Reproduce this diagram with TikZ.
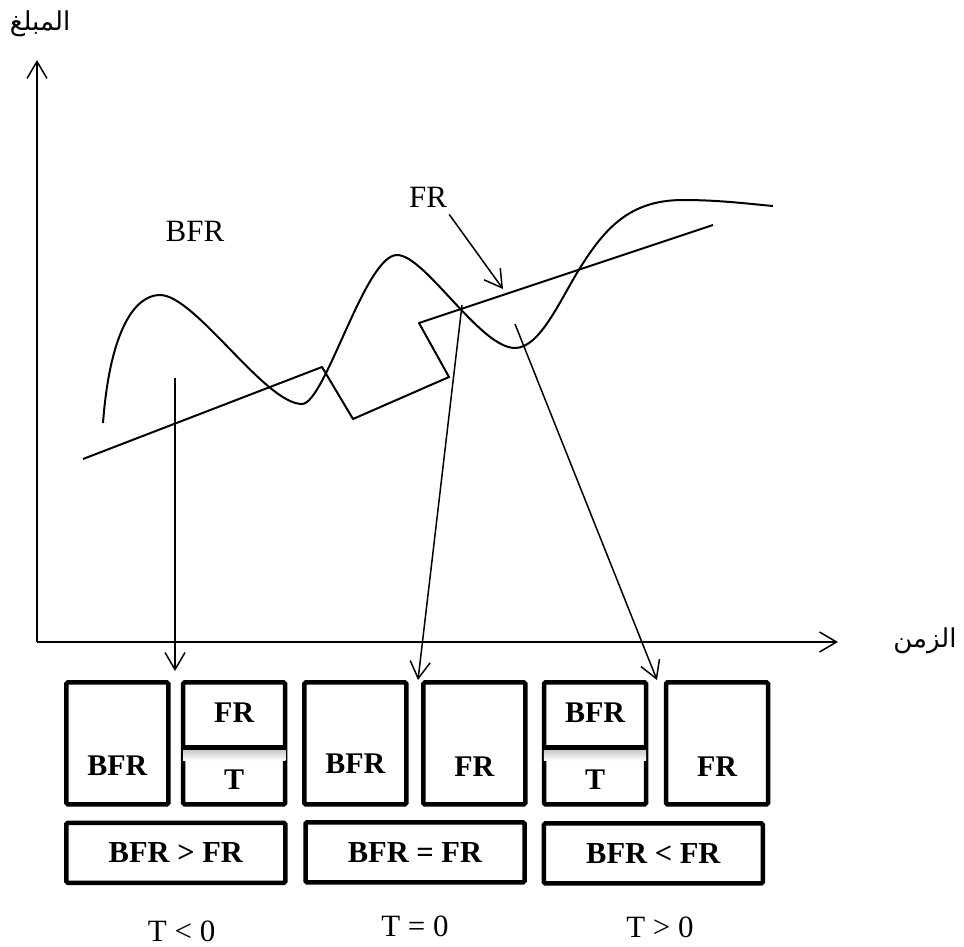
\documentclass[tikz,border=0pt]{standalone}
\usepackage{fontspec}
\setmainfont{Liberation Serif}
\newfontfamily\arabicfont[Script=Arabic]{DejaVu Sans}
\TeXXeTstate=1
\usetikzlibrary{arrows.meta}
\tikzset{
  cell/.style={draw,line width=4.5pt,rounded corners=1.5pt,minimum width=102pt,minimum height=122pt,inner sep=0pt},
  wide/.style={cell,minimum width=219pt,minimum height=60pt,font=\bfseries\fontsize{30.5}{36}\selectfont},
  boldlbl/.style={font=\bfseries\fontsize{30}{36}\selectfont,inner sep=0pt},
  plainlbl/.style={font=\fontsize{31}{37}\selectfont,inner sep=0pt},
  arlbl/.style={font=\arabicfont\fontsize{26}{32}\selectfont,inner sep=0pt},
  pointer/.style={-{Straight Barb[length=17pt,width=20pt]},line width=1.5pt},
  graph/.style={line width=2pt,line join=round}
}

\begin{document}
\begin{tikzpicture}[x=1pt,y=-1pt]
        \useasboundingbox (0,0) rectangle (964,947);
        % axes
        \coordinate (origin) at (37,642);
        \coordinate (ytop) at (37,60);
        \coordinate (xend) at (838,642);
        \draw[pointer] (origin) -- (ytop);
        \draw[pointer] (origin) -- (xend);
        \node[arlbl] (ylabel) at (40,24) {\beginR المبلغ\endR};
        \node[arlbl] (xlabel) at (925,641) {\beginR الزمن\endR};
        % curve and trend
        \draw[graph] (103,423) .. controls (110,330) and (135,295) .. (160,295)
          .. controls (195,295) and (265,404) .. (302,404)
          .. controls (325,404) and (365,255) .. (397,255)
          .. controls (425,255) and (480,348) .. (515,348)
          .. controls (540,348) and (560,300) .. (580,268)
          .. controls (605,228) and (630,200) .. (683,200)
          .. controls (720,200) and (750,204) .. (773,206);
        \draw[graph] (83,459) -- (322,367) -- (353,419) -- (449,377) -- (419,323) -- (713,225);
        \node[plainlbl] (bfrlbl) at (195,231) {BFR};
        \node[plainlbl] (frlbl) at (428,197) {FR};
        \coordinate (frtip) at (503,289);
        \draw[pointer] ([shift={(2pt,-7pt)}]frlbl.south east) -- (frtip);
        % boxes
        \foreach \n/\x in {1/117.4,2/234.2,3/355.3,4/474.3,5/595,6/717}{
          \node[cell] (box\n) at (\x,743.4) {};
        }
        \foreach \n in {2,5}{
          \shade[top color=black!22,bottom color=white] ([xshift=2.2pt,yshift=-6pt]box\n.west) rectangle ([xshift=-2.2pt,yshift=-17pt]box\n.east);
          \draw[line width=4.5pt] ([yshift=-4pt]box\n.west) -- ([yshift=-4pt]box\n.east);
        }
        \node[boldlbl] (txt1) at ([yshift=-22pt]box1.center) {BFR};
        \node[boldlbl] (txt2a) at ([yshift=30.5pt]box2.center) {FR};
        \node[boldlbl] (txt2b) at ([yshift=-36pt]box2.center) {T};
        \node[boldlbl] (txt3) at ([yshift=-20pt]box3.center) {BFR};
        \node[boldlbl] (txt4) at ([yshift=-23.5pt]box4.center) {FR};
        \node[boldlbl] (txt5a) at ([yshift=30.5pt]box5.center) {BFR};
        \node[boldlbl] (txt5b) at ([yshift=-36.5pt]box5.center) {T};
        \node[boldlbl] (txt6) at ([yshift=-23.5pt]box6.center) {FR};
        \node[wide] (cmp1) at (175.8,852.8) {BFR > FR};
        \node[wide] (cmp2) at (415,852.4) {BFR = FR};
        \node[wide] (cmp3) at (653.3,853.4) {BFR < FR};
        \node[plainlbl] (tneg) at (181.7,931.7) {T < 0};
        \node[plainlbl] (tzero) at (415,926.7) {T = 0};
        \node[plainlbl] (tpos) at (660,927) {T > 0};
        % pointers to boxes
        \coordinate (peak1) at (175,378);
        \coordinate (tip1) at (175,671);
        \coordinate (cross2) at (462,305);
        \coordinate (tip2) at (418,680);
        \coordinate (dip3) at (515,324);
        \coordinate (tip3) at (657,680);
        \draw[pointer] (peak1) -- (tip1);
        \draw[pointer] (cross2) -- (tip2);
        \draw[pointer] (dip3) -- (tip3);
      \end{tikzpicture}
\end{document}
